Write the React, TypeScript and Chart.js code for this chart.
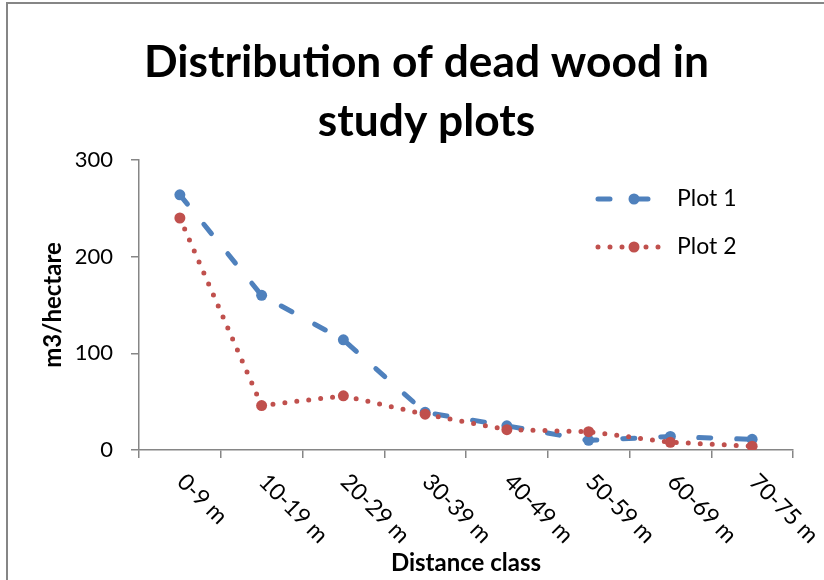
import React, { useEffect, useRef } from "react";
import { Chart, registerables } from "chart.js";

Chart.register(...registerables);

const categories = ["0-9 m", "10-19 m", "20-29 m", "30-39 m", "40-49 m", "50-59 m", "60-69 m", "70-75 m"];
const plot1 = [264, 160, 114, 39, 25, 10, 14, 11];
const plot2 = [240, 46, 56, 37, 21, 19, 8, 4];
const seriesNames = ["Plot 1", "Plot 2"];
const titleLines = ["Distribution of dead wood in", "study plots"];
const yTitle = "m3/hectare";
const xTitle = "Distance class";

const BLUE = "#4F81BD";
const RED = "#C0504D";
const AXIS = "#868686";
const FONT = "Lato, 'Open Sans', sans-serif";

const xLabelPlugin = {
  id: "rotatedXLabels",
  afterDraw(chart: any) {
    const { ctx, scales } = chart;
    const x = scales.x;
    const yBase = chart.chartArea.bottom + 28;
    ctx.save();
    ctx.fillStyle = "#000";
    ctx.font = `23px ${FONT}`;
    ctx.textAlign = "left";
    ctx.textBaseline = "middle";
    categories.forEach((lab, i) => {
      const px = x.getPixelForValue(i);
      ctx.save();
      ctx.translate(px + 1, yBase);
      ctx.rotate(Math.PI / 4);
      ctx.fillText(lab, 0, 0);
      ctx.restore();
    });
    ctx.restore();
  },
};

const legendPlugin = {
  id: "insideLegend",
  afterDraw(chart: any) {
    const { ctx, chartArea } = chart;
    const x0 = chartArea.right - 195;
    const x1 = x0 + 65;
    ctx.save();
    chart.data.datasets.forEach((ds: any, i: number) => {
      const y = chartArea.top + 39 + i * 48;
      ctx.save();
      ctx.strokeStyle = ds.borderColor;
      ctx.lineWidth = ds.borderWidth;
      ctx.lineCap = "round";
      ctx.setLineDash(ds.borderDash || []);
      ctx.beginPath();
      ctx.moveTo(x0, y);
      ctx.lineTo(x1, y);
      ctx.stroke();
      ctx.setLineDash([]);
      ctx.fillStyle = ds.pointBackgroundColor;
      ctx.beginPath();
      ctx.arc(x0 + 36, y, ds.pointRadius, 0, Math.PI * 2);
      ctx.fill();
      ctx.fillStyle = "#000";
      ctx.font = `23px ${FONT}`;
      ctx.textAlign = "left";
      ctx.textBaseline = "middle";
      ctx.fillText(ds.label, x1 + 14, y);
      ctx.restore();
    });
    ctx.restore();
  },
};

export default function App() {
  const ref = useRef<HTMLCanvasElement | null>(null);

  useEffect(() => {
    if (!ref.current) return;
    const chart = new Chart(ref.current, {
      type: "line",
      data: {
        labels: categories,
        datasets: [
          {
            label: seriesNames[0],
            data: plot1,
            borderColor: BLUE,
            backgroundColor: BLUE,
            pointBackgroundColor: BLUE,
            pointBorderWidth: 0,
            pointRadius: 5.5,
            borderWidth: 5,
            borderDash: [12, 26],
            borderCapStyle: "round",
            tension: 0,
            order: 1,
          },
          {
            label: seriesNames[1],
            data: plot2,
            borderColor: RED,
            backgroundColor: RED,
            pointBackgroundColor: RED,
            pointBorderWidth: 0,
            pointRadius: 5.5,
            borderWidth: 5,
            borderDash: [0, 12],
            borderCapStyle: "round",
            tension: 0,
            order: 0,
          },
        ],
      },
      options: {
        animation: false,
        responsive: false,
        devicePixelRatio: 1,
        layout: { padding: { left: 60, right: 31, top: 0, bottom: 0 }, autoPadding: false },
        plugins: {
          legend: { display: false },
          tooltip: { enabled: false },
          title: {
            display: true,
            text: titleLines,
            color: "#000",
            font: { family: FONT, size: 44.3, weight: "bold", lineHeight: 59 / 44.3 },
            padding: { top: 33.5, bottom: 8.5 },
          },
        },
        scales: {
          x: {
            type: "category",
            offset: true,
            grid: { display: true, drawOnChartArea: false, drawTicks: true, tickLength: 8, color: AXIS, lineWidth: 1.5, offset: true },
            border: { display: true, color: AXIS, width: 1.5 },
            ticks: { display: false },
            title: {
              display: true,
              text: xTitle,
              color: "#000",
              font: { family: FONT, size: 24, weight: "bold" },
              padding: { top: 0, bottom: 2.6 },
            },
            afterFit(scale: any) {
              scale.height = 130;
            },
          },
          y: {
            min: 0,
            max: 300,
            ticks: { stepSize: 100, color: "#000", font: { family: FONT, size: 22 }, padding: 18 },
            grid: { display: true, drawOnChartArea: false, drawTicks: true, tickLength: 8, color: AXIS, lineWidth: 1.5 },
            border: { display: true, color: AXIS, width: 1.5 },
            title: {
              display: true,
              text: yTitle,
              color: "#000",
              font: { family: FONT, size: 24, weight: "bold" },
              padding: { top: -21.4, bottom: 0 },
            },
            afterFit(scale: any) {
              scale.width = 79;
            },
          },
        },
      },
      plugins: [xLabelPlugin, legendPlugin],
    } as any);
    return () => chart.destroy();
  }, []);

  return (
    <div style={{ position: "fixed", left: 0, top: 0, width: 824, height: 580, background: "#fff", overflow: "hidden" }}>
      <div
        style={{
          position: "absolute",
          left: 6,
          top: 2,
          width: 1000,
          height: 1000,
          border: `2px solid ${AXIS}`,
          boxSizing: "border-box",
        }}
      />
      <canvas ref={ref} width={824} height={580} style={{ position: "absolute", left: 0, top: 0, width: 824, height: 580 }} />
    </div>
  );
}
